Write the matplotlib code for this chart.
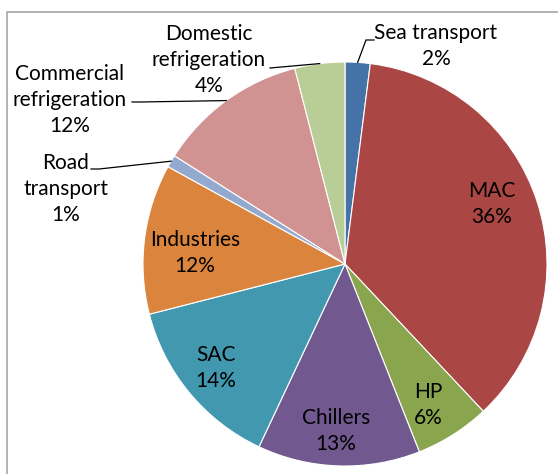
import matplotlib
matplotlib.use("Agg")
import matplotlib.pyplot as plt
from matplotlib.patches import Rectangle
import numpy as np

categories = ["Sea transport", "MAC", "HP", "Chillers", "SAC", "Industries",
              "Road\ntransport", "Commercial\nrefrigeration", "Domestic\nrefrigeration"]
values = [2, 36, 6, 13, 14, 12, 1, 12, 4]
colors = ["#4572A7", "#AA4643", "#89A54E", "#71588F", "#4198AF", "#DB843D",
          "#93A9CF", "#D19392", "#B9CD96"]

W, H = 558, 474
CX, CY, R = 345, 264, 202

fig = plt.figure(figsize=(W / 100, H / 100), dpi=100)
fig.patch.set_facecolor("white")
# chart frame (cropped)
fig.patches.append(Rectangle((7 / W, -0.1), 1.2, (H - 12) / H + 0.1, transform=fig.transFigure,
                             fill=False, edgecolor="#A6A6A6", linewidth=1.2))

ax = fig.add_axes([(CX - R) / W, (H - CY - R) / H, 2 * R / W, 2 * R / H])
wedges, _ = ax.pie(values, colors=colors, startangle=90, counterclock=False,
                   radius=1, wedgeprops=dict(edgecolor="white", linewidth=0.8))
ax.set_xlim(-1, 1)
ax.set_ylim(-1, 1)
ax.axis("off")


def px(x, y):
    return ((x - CX) / R, (CY - y) / R)


# label anchor positions (pixel coordinates, centers)
label_pos = [(436, 46), (492, 204), (428, 405), (336, 431), (216, 368), (195, 253),
             (66, 189), (70, 100), (209, 60)]
# leader line far ends (pixel) for outside labels
leader_pts = {0: [(374, 40), (366, 40)], 6: [(91, 169), (99, 169)],
              7: [(132, 102), (140, 102)], 8: [(270, 68)]}

total = sum(values)
for i, (cat, v) in enumerate(zip(categories, values)):
    txt = f"{cat}\n{round(100 * v / total)}%"
    x, y = px(*label_pos[i])
    ax.text(x, y, txt, ha="center", va="center", fontsize=15, family="Lato",
            linespacing=1.38, color="black")
    if i in leader_pts:
        w = wedges[i]
        mid = np.deg2rad((w.theta1 + w.theta2) / 2)
        ex, ey = np.cos(mid), np.sin(mid)
        pts = [px(*p) for p in leader_pts[i]]
        xs = [p[0] for p in pts] + [ex]
        ys = [p[1] for p in pts] + [ey]
        ax.plot(xs, ys, color="black", linewidth=0.9, clip_on=False)

fig.savefig("out.png", dpi=100)
